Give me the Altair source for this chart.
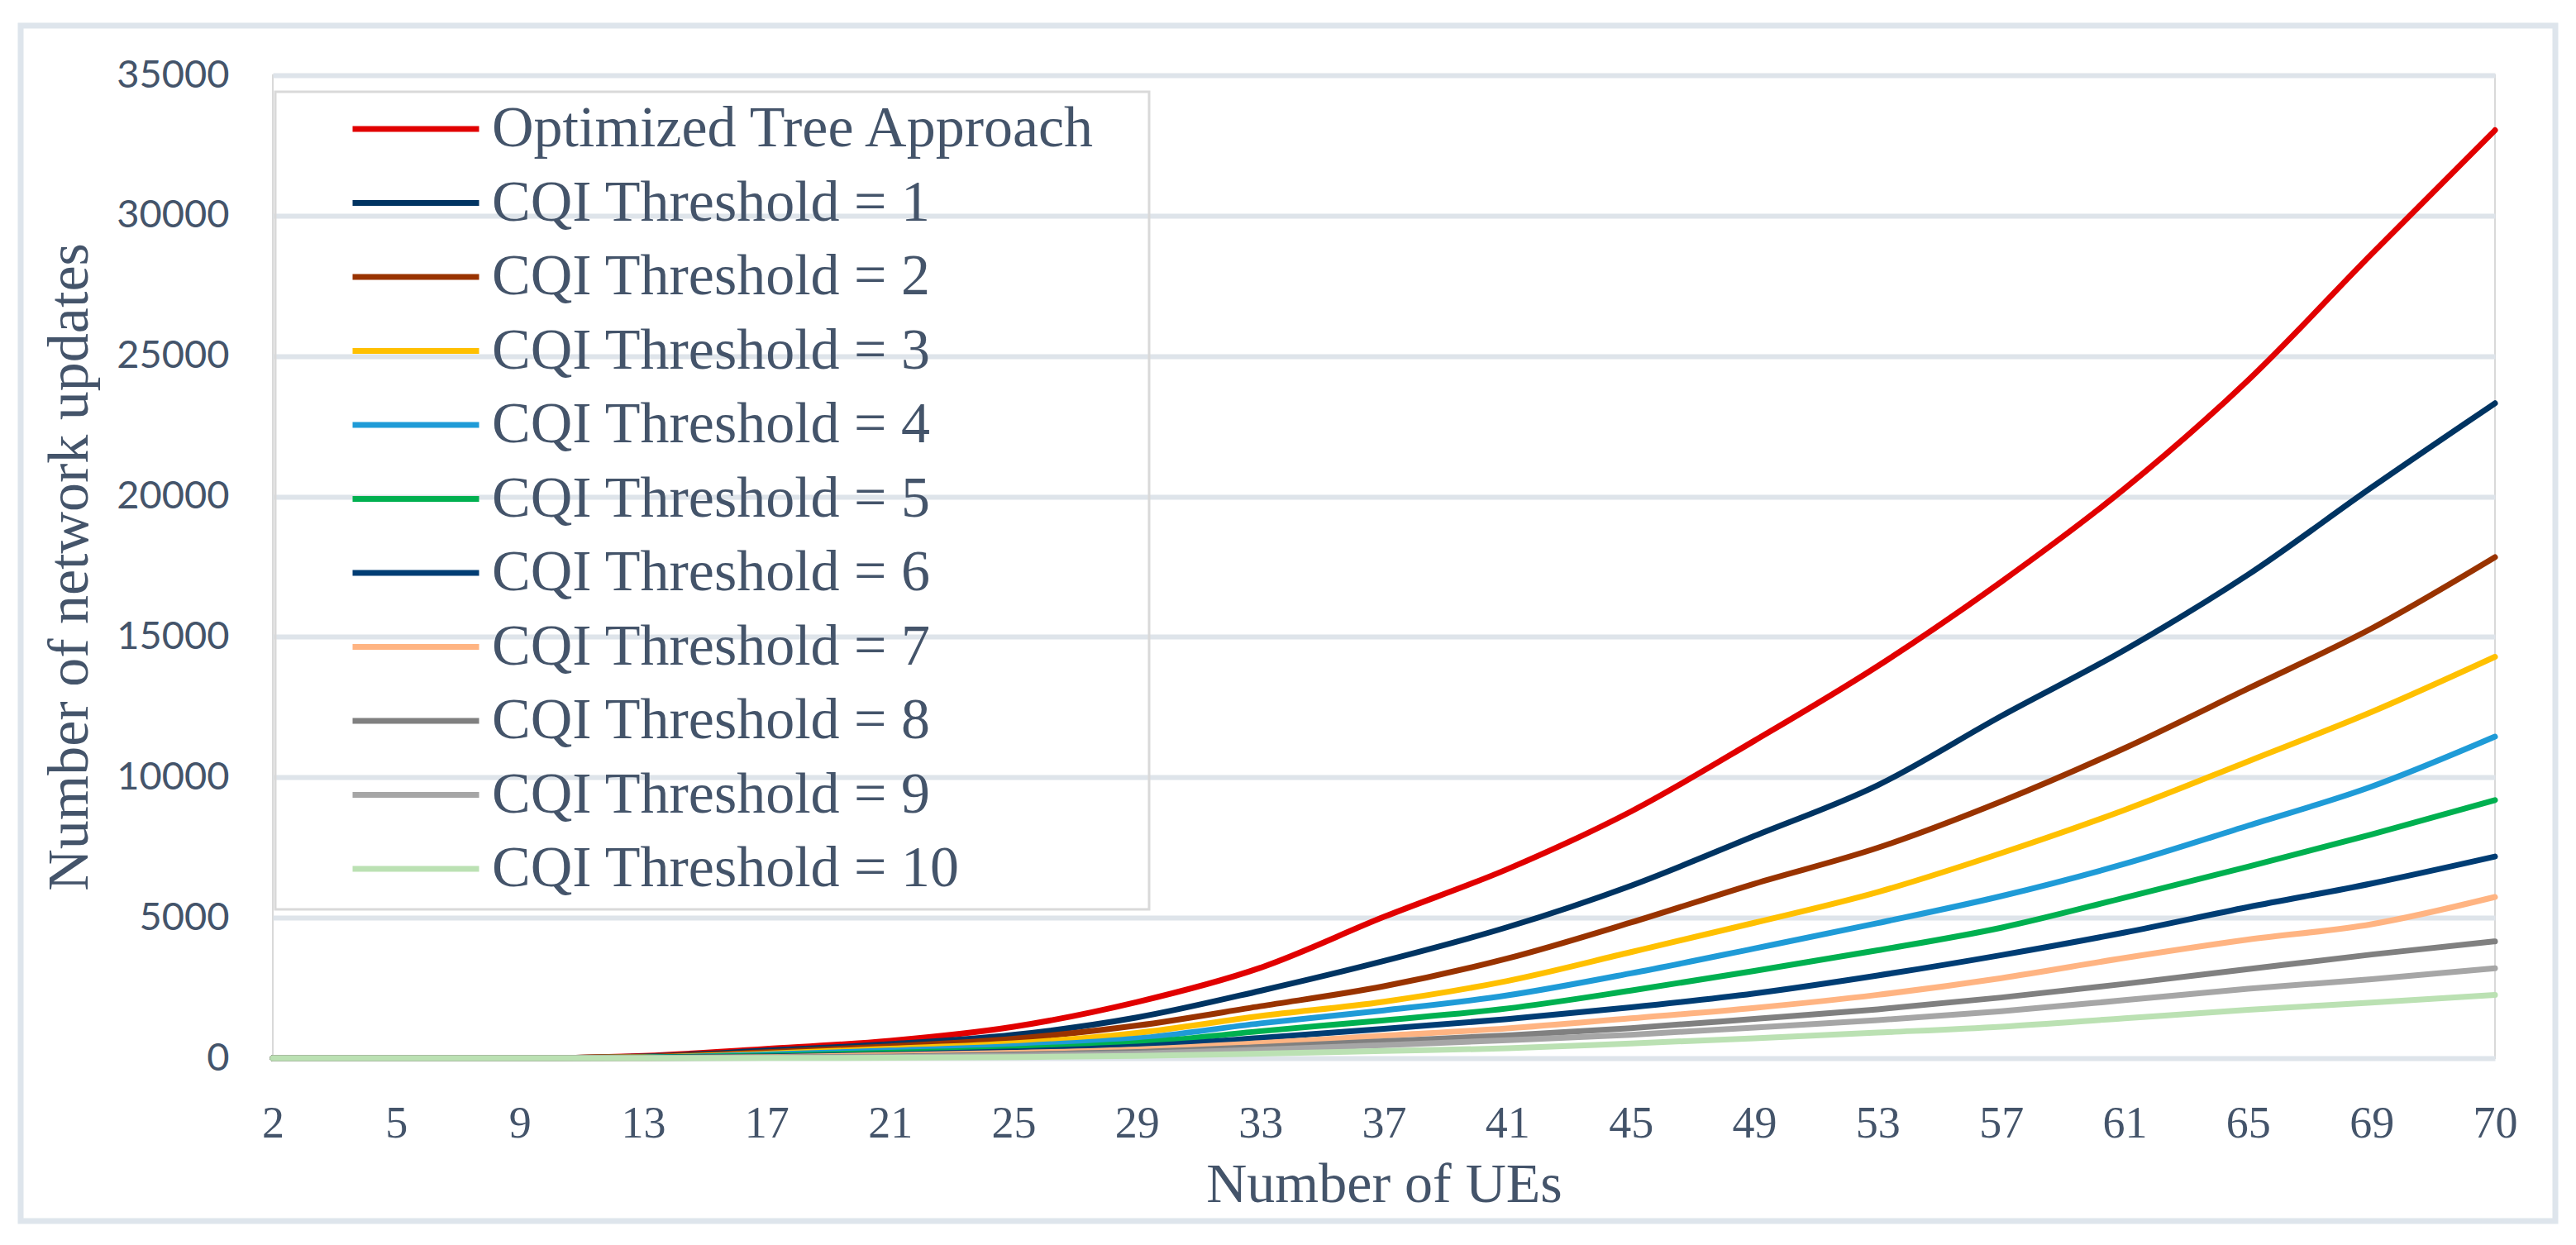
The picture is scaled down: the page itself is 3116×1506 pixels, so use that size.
import altair as alt
import pandas as pd

# ---------------- data ----------------
x_labels = ["2", "5", "9", "13", "17", "21", "25", "29", "33", "37",
            "41", "45", "49", "53", "57", "61", "65", "69", "70"]

series_names = [
    "Optimized Tree Approach",
    "CQI Threshold = 1",
    "CQI Threshold = 2",
    "CQI Threshold = 3",
    "CQI Threshold = 4",
    "CQI Threshold = 5",
    "CQI Threshold = 6",
    "CQI Threshold = 7",
    "CQI Threshold = 8",
    "CQI Threshold = 9",
    "CQI Threshold = 10",
]

series_colors = ["#E10000", "#003462", "#993300", "#FFC000", "#1F9BD7",
                 "#00B050", "#003D74", "#FFB482", "#808080", "#A6A6A6", "#BBE1B3"]

optimized = [0, 0, 0, 80, 330, 620, 1120, 2000, 3220, 5030, 6730, 8780, 11300, 13960, 16960, 20280, 24140, 28630, 33040]
cqi_1 = [0, 0, 0, 60, 270, 500, 830, 1450, 2400, 3460, 4665, 6140, 7910, 9720, 12180, 14535, 17215, 20320, 23320]
cqi_2 = [0, 0, 0, 50, 215, 420, 690, 1160, 1850, 2560, 3550, 4830, 6210, 7490, 9140, 11040, 13160, 15300, 17840]
cqi_3 = [0, 0, 0, 30, 165, 340, 530, 900, 1500, 2010, 2750, 3775, 4820, 5915, 7300, 8840, 10570, 12325, 14290]
cqi_4 = [0, 0, 0, 25, 135, 270, 430, 700, 1240, 1700, 2235, 3020, 3905, 4810, 5770, 6920, 8280, 9670, 11450]
cqi_5 = [0, 0, 0, 20, 90, 195, 320, 540, 960, 1350, 1770, 2405, 3105, 3840, 4645, 5715, 6820, 7965, 9190]
cqi_6 = [0, 0, 0, 15, 60, 135, 240, 410, 720, 1045, 1390, 1810, 2305, 2945, 3670, 4475, 5380, 6220, 7180]
cqi_7 = [0, 0, 0, 10, 40, 110, 190, 310, 540, 800, 1060, 1420, 1790, 2255, 2850, 3570, 4225, 4770, 5740]
cqi_8 = [0, 0, 0, 5, 25, 60, 135, 220, 400, 600, 813, 1070, 1400, 1740, 2160, 2645, 3170, 3690, 4160]
cqi_9 = [0, 0, 0, 3, 15, 40, 90, 160, 300, 465, 640, 835, 1090, 1355, 1670, 2065, 2475, 2810, 3200]
cqi_10 = [0, 0, 0, 0, 5, 15, 40, 80, 160, 255, 350, 525, 710, 910, 1120, 1420, 1720, 1980, 2250]

y_ticks = [0, 5000, 10000, 15000, 20000, 25000, 30000, 35000]

all_series = [optimized, cqi_1, cqi_2, cqi_3, cqi_4, cqi_5, cqi_6,
              cqi_7, cqi_8, cqi_9, cqi_10]

rows = []
for name, vals in zip(series_names, all_series):
    for lab, v in zip(x_labels, vals):
        rows.append({"ue": lab, "updates": v, "series": name})
df = pd.DataFrame(rows)

# ---------------- styling ----------------
W, H = 2688, 1189
TEXT = "#44546A"
SERIF = "Liberation Serif"
GRID = "#DEE4EA"

# chart-area border (decoration)
border = alt.Chart(alt.Data(values=[{"k": 1}])).mark_rect(
    fillOpacity=0, stroke="#DEE5EC", strokeWidth=7
).encode(
    x=alt.value(-305), x2=alt.value(W + 73),
    y=alt.value(-60), y2=alt.value(H + 197),
)

# legend frame (decoration)
legend_box = alt.Chart(alt.Data(values=[{"k": 1}])).mark_rect(
    fillOpacity=0, stroke="#D9D9D9", strokeWidth=3
).encode(
    x=alt.value(3), x2=alt.value(1060),
    y=alt.value(20), y2=alt.value(1009),
)

lines = alt.Chart(df).mark_line(
    strokeWidth=7, strokeCap="round", strokeJoin="round", interpolate="monotone"
).encode(
    x=alt.X(
        "ue:O", sort=x_labels,
        scale=alt.Scale(type="point", padding=0),
        axis=alt.Axis(
            title="Number of UEs", labelAngle=0, labelFont=SERIF, labelFontSize=54,
            labelColor=TEXT, labelBaseline="alphabetic", labelPadding=95,
            ticks=False, tickSize=0, domain=False, grid=False,
            labelOverlap=False, labelFlush=False,
            titleFont=SERIF, titleFontSize=68, titleFontWeight="normal",
            titleColor=TEXT, titleBaseline="alphabetic", titleY=173,
        ),
    ),
    y=alt.Y(
        "updates:Q",
        scale=alt.Scale(domain=[0, 35000], nice=False),
        axis=alt.Axis(
            title="Number of network updates", values=y_ticks, format="d",
            labelFont="Lato", labelFontSize=47, labelColor=TEXT, labelPadding=53,
            ticks=False, tickSize=0, domain=False, grid=True,
            gridColor=GRID, gridWidth=6,
            titleFont=SERIF, titleFontSize=70, titleFontWeight="normal",
            titleColor=TEXT, titleAngle=270, titleBaseline="alphabetic",
            titleAlign="center", titleX=-225, titleY=H / 2,
        ),
    ),
    color=alt.Color(
        "series:N", sort=series_names,
        scale=alt.Scale(domain=series_names, range=series_colors),
        legend=alt.Legend(
            title=None, orient="none", legendX=138, legendY=30, padding=0,
            symbolType="M-3.825,0H3.825", symbolSize=1600, symbolStrokeWidth=7,
            labelFont=SERIF, labelFontSize=70, labelColor=TEXT,
            labelOffset=57, rowPadding=19.5, labelLimit=2000,
        ),
    ),
)

chart = alt.layer(border, legend_box, lines).properties(
    width=W, height=H,
    autosize=alt.AutoSizeParams(type="none"),
    padding={"left": 322, "top": 83, "right": 90, "bottom": 210},
    background="white",
).configure_view(stroke="#D9D9D9", strokeWidth=2)

chart.save("out.html", embed_options={"renderer": "svg", "actions": False})
